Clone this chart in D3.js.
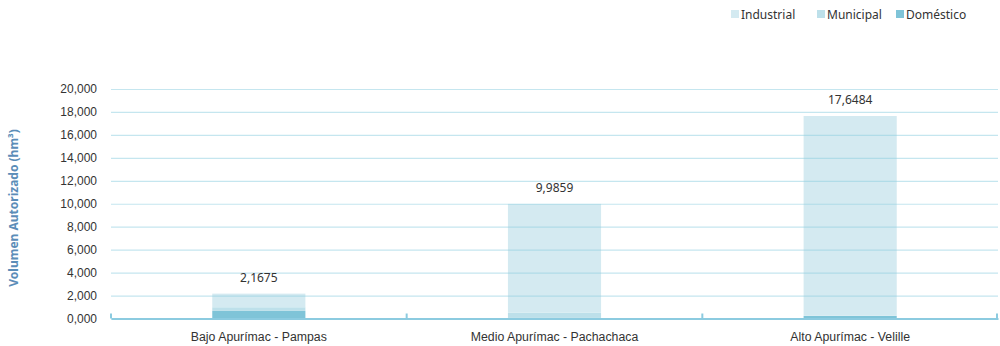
<!DOCTYPE html>
<html><head><meta charset="utf-8">
<script src="https://cdn.jsdelivr.net/npm/d3@7"></script>
<style>body{margin:0;background:#fff}svg{display:block;font-family:"Noto Sans",sans-serif}</style>
</head><body><svg id="c" width="1000" height="346"></svg>
<script>
const categories = ["Bajo Apurímac - Pampas", "Medio Apurímac - Pachachaca", "Alto Apurímac - Velille"];
const seriesNames = ["Doméstico", "Municipal", "Industrial"];
const domestico = [0.66, 0.05, 0.22];
const municipal = [0.32, 0.45, 0.03];
const industrial = [1.1875, 9.4859, 17.3984];
const totals = [2.1675, 9.9859, 17.6484];
const yTicks = [0, 2, 4, 6, 8, 10, 12, 14, 16, 18, 20];
const colors = {"Industrial": "#d4eaf1", "Municipal": "#bde0ea", "Doméstico": "#7fc4d8"};
const legendOrder = ["Industrial", "Municipal", "Doméstico"];

(function () {
const svg = d3.select("#c");
const mLeft = 111, mRight = 998, mTop = 89, mBottom = 318.5;
const x = d3.scaleBand().domain(categories).range([mLeft, mRight]).paddingInner(0.685).paddingOuter(0.3425);
const y = d3.scaleLinear().domain([0, 20]).range([mBottom, mTop]);
const fmtAxis = v => d3.format(".3f")(v).replace(".", ",");
const fmtVal = v => d3.format(".4f")(v).replace(".", ",");

const rows = categories.map((c, i) => ({cat: c, "Doméstico": domestico[i], "Municipal": municipal[i], "Industrial": industrial[i]}));
const stack = d3.stack().keys(seriesNames)(rows);

svg.append("g").selectAll("g").data(stack).join("g")
  .attr("fill", d => colors[d.key])
  .selectAll("rect").data(d => d).join("rect")
  .attr("x", d => x(d.data.cat)).attr("width", x.bandwidth())
  .attr("y", d => y(d[1])).attr("height", d => y(d[0]) - y(d[1]));

const yAxis = svg.append("g").attr("transform", `translate(${mLeft},0)`)
  .call(d3.axisLeft(y).tickValues(yTicks).tickFormat(fmtAxis).tickSize(-(mRight - mLeft)).tickPadding(14));
yAxis.select(".domain").remove();
yAxis.selectAll(".tick line").attr("stroke", "#8ccde0").attr("stroke-opacity", 0.5).attr("stroke-width", 1.2);
yAxis.selectAll(".tick text").attr("fill", "#333").attr("font-size", 12);

const xAxis = svg.append("g").attr("transform", `translate(0,${mBottom})`)
  .call(d3.axisBottom(x).tickSize(0).tickPadding(14));
xAxis.select(".domain").attr("stroke", "#8ccbe0").attr("stroke-width", 2);
xAxis.selectAll(".tick text").attr("fill", "#333").attr("font-size", 12.3);
const step = x.step();
const bounds = d3.range(categories.length + 1).map(i => mLeft + i * step);
svg.append("g").selectAll("line").data(bounds).join("line")
  .attr("x1", d => Math.min(d, mRight - 1)).attr("x2", d => Math.min(d, mRight - 1))
  .attr("y1", mBottom - 5).attr("y2", mBottom)
  .attr("stroke", "#8ccbe0").attr("stroke-width", 2);

svg.append("g").selectAll("text").data(totals).join("text")
  .attr("x", (d, i) => x(categories[i]) + x.bandwidth() / 2)
  .attr("y", d => y(d) - 12)
  .attr("text-anchor", "middle").attr("font-size", 12).attr("fill", "#333")
  .text(fmtVal);

svg.append("text").attr("transform", "translate(18,208) rotate(-90)")
  .attr("text-anchor", "middle").attr("font-size", 12).attr("font-weight", "bold").attr("fill", "#5b8db8")
  .text("Volumen Autorizado (hm³)");

const lx = [731, 817, 896];
const lg = svg.append("g").selectAll("g").data(legendOrder).join("g")
  .attr("transform", (d, i) => `translate(${lx[i]},10)`);
lg.append("rect").attr("width", 8).attr("height", 8).attr("fill", d => colors[d]);
lg.append("text").attr("x", 10).attr("y", 8.5).attr("font-size", 12).attr("fill", "#333").text(d => d);
})();
</script></body></html>
